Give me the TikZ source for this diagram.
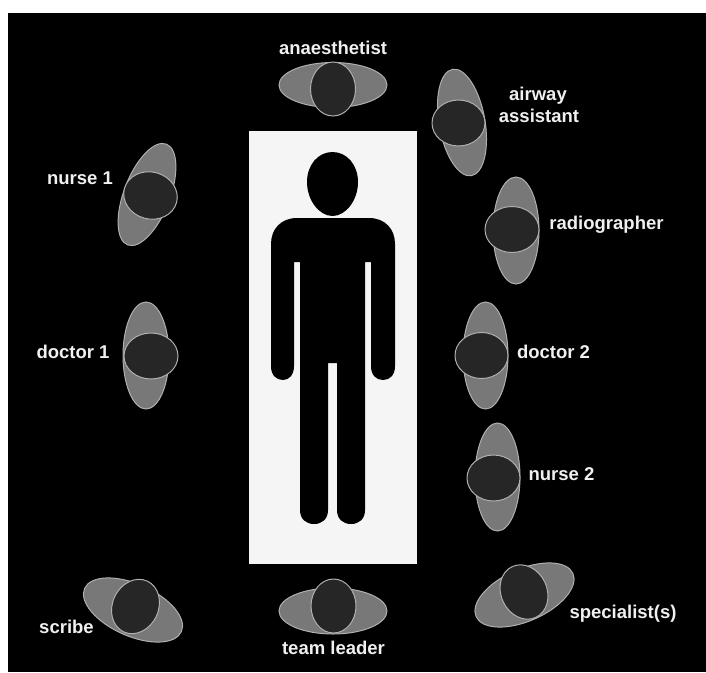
\documentclass[tikz,border=0pt]{standalone}
\usepackage{fontspec}
\setmainfont{Liberation Sans}
\definecolor{bodygrey}{HTML}{787878}
\definecolor{headgrey}{HTML}{262626}
\definecolor{rimgrey}{HTML}{B0B0B0}
\definecolor{trolley}{HTML}{F5F5F5}
\definecolor{labelgrey}{HTML}{F0F0F0}
\tikzset{
  shoulders/.style={fill=bodygrey,draw=rimgrey,line width=1pt},
  crown/.style={fill=headgrey,draw=rimgrey,line width=1pt},
  rolelabel/.style={text=labelgrey,anchor=base,inner sep=0pt,font=\fontsize{18.5}{20}\selectfont\bfseries,align=center}
}
\begin{document}
\begin{tikzpicture}[x=1pt,y=-1pt]
\useasboundingbox (0,0) rectangle (706,672);
\fill[white] (0,0) rectangle (706,672);
\fill[black] (8,13) rectangle (706,672);
% trolley
\fill[trolley] (249,131) rectangle (417,564);
% figure
\fill[black] (332.5,152) .. controls (347,152) and (358,165) .. (358,182)
  .. controls (358,200) and (346,216) .. (332.5,216)
  .. controls (319,216) and (307,200) .. (307,182)
  .. controls (307,165) and (318,152) .. (332.5,152) -- cycle;
\fill[black] (297,218) -- (369,218)
  .. controls (385,218) and (395,229) .. (395,244)
  -- (395,366) .. controls (395,375) and (390,380) .. (383,380)
  .. controls (376,380) and (371,375) .. (371,366)
  -- (371,262) -- (365,262) -- (365,510)
  .. controls (365,519) and (359,524) .. (351,524)
  .. controls (343,524) and (337,519) .. (337,510)
  -- (337,363) -- (328,363) -- (328,510)
  .. controls (328,519) and (322,524) .. (314,524)
  .. controls (306,524) and (300,519) .. (300,510)
  -- (300,262) -- (294,262) -- (294,366)
  .. controls (294,375) and (289,380) .. (283,380)
  .. controls (276,380) and (271,375) .. (271,366)
  -- (271,244) .. controls (271,229) and (281,218) .. (297,218) -- cycle;
% people
\draw[shoulders] (333,85) ellipse [x radius=54pt,y radius=22.5pt];
\draw[crown] (333,89) ellipse [x radius=22.5pt,y radius=27pt];
\draw[shoulders] (147,194.5) ellipse [x radius=23pt,y radius=54pt,rotate=-21];
\draw[crown] (150.5,195.5) ellipse [x radius=27pt,y radius=23.5pt,rotate=-15];
\draw[shoulders] (146,355.5) ellipse [x radius=23pt,y radius=53.5pt];
\draw[crown] (151,356) ellipse [x radius=27pt,y radius=23pt];
\draw[shoulders] (462,122.5) ellipse [x radius=23pt,y radius=54pt,rotate=10];
\draw[crown] (458.5,123) ellipse [x radius=26.5pt,y radius=23pt];
\draw[shoulders] (516,230.5) ellipse [x radius=23pt,y radius=53.5pt];
\draw[crown] (512,229.5) ellipse [x radius=27pt,y radius=23pt];
\draw[shoulders] (485.5,355.5) ellipse [x radius=22.5pt,y radius=53.5pt];
\draw[crown] (481.5,355.5) ellipse [x radius=26.5pt,y radius=23pt];
\draw[shoulders] (497.5,477) ellipse [x radius=22.5pt,y radius=54pt];
\draw[crown] (493.5,478) ellipse [x radius=26.5pt,y radius=23pt];
\draw[shoulders] (133,610) ellipse [x radius=53pt,y radius=26pt,rotate=-24];
\draw[crown] (135.5,606.5) ellipse [x radius=23pt,y radius=28pt,rotate=-25];
\draw[shoulders] (333,611) ellipse [x radius=54pt,y radius=23pt];
\draw[crown] (333.5,606) ellipse [x radius=22.5pt,y radius=27pt];
\draw[shoulders] (524.5,595) ellipse [x radius=53pt,y radius=26pt,rotate=24];
\draw[crown] (524,592) ellipse [x radius=23pt,y radius=28pt,rotate=25];
% labels
\node[rolelabel] (anaesthetist) at (333,54) {anaesthetist};
\node[rolelabel] (nurseone) at (80,184) {nurse 1};
\node[rolelabel] (doctorone) at (73,358) {doctor 1};
\node[rolelabel] (airway) at (538,100.5) {airway};
\node[rolelabel] (assistant) at (539,122.5) {assistant};
\node[rolelabel] (radiographer) at (606.5,229) {radiographer};
\node[rolelabel] (doctortwo) at (553.5,358) {doctor 2};
\node[rolelabel] (nursetwo) at (561.5,480) {nurse 2};
\node[rolelabel] (scribe) at (66.5,633) {scribe};
\node[rolelabel] (teamleader) at (333.5,654) {team leader};
\node[rolelabel] (specialists) at (623,618.5) {specialist(s)};
\end{tikzpicture}
\end{document}
